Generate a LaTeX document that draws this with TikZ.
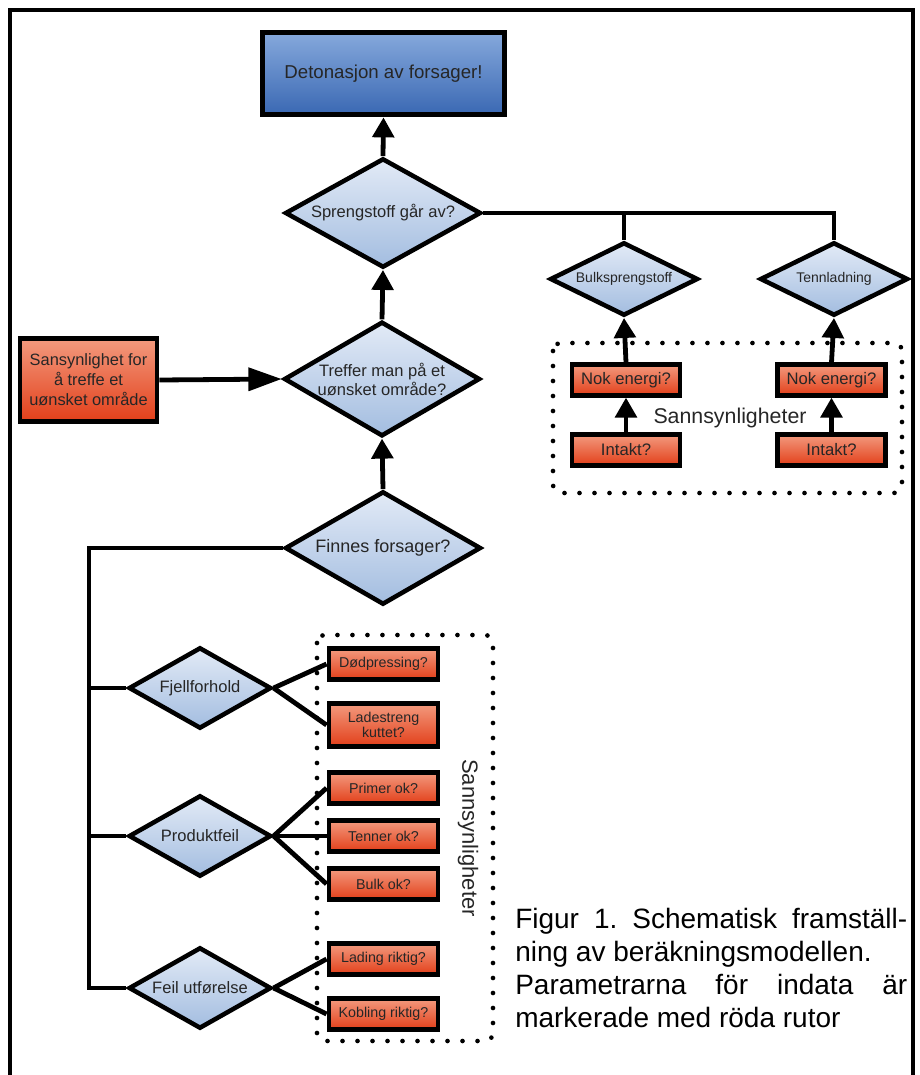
\documentclass[tikz,border=0pt]{standalone}
\usepackage{fontspec}
\setmainfont{Liberation Sans}
\usetikzlibrary{arrows.meta,shapes.geometric}
\frenchspacing
\definecolor{bluetop}{HTML}{86A9DC}
\definecolor{bluebot}{HTML}{3A68B3}
\definecolor{diatop}{HTML}{E2EAF6}
\definecolor{diabot}{HTML}{A3BDE0}
\definecolor{redtop}{HTML}{F39A7E}
\definecolor{redbot}{HTML}{E23F1A}
\definecolor{txt}{HTML}{262626}
\tikzset{
  dia/.style={diamond, draw=black, line width=3.4pt, inner sep=0pt, top color=diatop, bottom color=diabot},
  dtext/.style={text=txt, align=center, inner sep=0pt},
  redbox/.style={rectangle, draw=black, line width=3.4pt, top color=redtop, bottom color=redbot, text=txt, align=center, inner sep=1pt},
  conn/.style={line width=3.6pt},
  arr/.style={line width=3.6pt, -{Triangle[length=15pt,width=16pt]}},
  bigarr/.style={line width=3.6pt, -{Triangle[length=25pt,width=17pt]}},
  dotbox/.style={line width=3.5pt, dash pattern=on 0pt off 11.25pt, line cap=round, rounded corners=6pt},
  captext/.style={anchor=base west, inner sep=0pt, font=\fontsize{21pt}{25pt}\selectfont},
  fdia/.style={font=\fontsize{12.4pt}{14.25pt}\selectfont},
  fsmall/.style={font=\fontsize{10.7pt}{11.25pt}\selectfont},
}
\begin{document}
\begin{tikzpicture}[x=0.75pt,y=-0.75pt]
\useasboundingbox (0,0) rectangle (920,1075);
% frame
\draw[line width=2.3pt] (10,1076) -- (10,10) -- (913,10) -- (913,1076);
% dotted groups
\draw[dotbox] (553,343) rectangle (902,493);
\draw[dotbox] (317,635) rectangle (493,1041);
\node[text=txt, font=\fontsize{16pt}{18pt}\selectfont] (s1) at (730,418) {Sannsynligheter};
\node[text=txt, font=\fontsize{16.5pt}{18pt}\selectfont, rotate=-90] (s2) at (468,838) {Sannsynligheter};

% main column
\node[rectangle, draw=black, line width=3.8pt, top color=bluetop, bottom color=bluebot,
      minimum width=182pt, minimum height=62pt, text=txt, font=\fontsize{14pt}{16pt}\selectfont]
      (deton) at (383.5,73.5) {Detonasjon av forsager!};
\node[dia, minimum width=147pt, minimum height=82pt,
      label={[dtext,fdia]center:Sprengstoff går av?}] (spreng) at (383,213) {};
\node[dia, minimum width=147pt, minimum height=86pt,
      label={[dtext,fdia]center:Treffer man på et\\uønsket område?}] (treffer) at (382,379) {};
\node[dia, minimum width=147pt, minimum height=85pt,
      label={[dtext,font=\fontsize{13.5pt}{15pt}\selectfont]center:Finnes forsager?}] (finnes) at (383,548) {};
\node[redbox, minimum width=103pt, minimum height=62pt, font=\fontsize{12.3pt}{15pt}\selectfont]
      (sans) at (88.5,380) {Sansynlighet for\\å treffe et\\uønsket område};

% right branch
\node[dia, minimum width=111pt, minimum height=55pt,
      label={[dtext,font=\fontsize{10.5pt}{12pt}\selectfont]center:Bulksprengstoff}] (bulk) at (624,279) {};
\node[dia, minimum width=111pt, minimum height=55pt,
      label={[dtext,font=\fontsize{10.5pt}{12pt}\selectfont]center:Tennladning}] (tenn) at (834,279) {};
\node[redbox, minimum width=81pt, minimum height=23pt, font=\fontsize{12.5pt}{14pt}\selectfont] (nok1) at (626,380) {Nok energi?};
\node[redbox, minimum width=81pt, minimum height=23pt, font=\fontsize{12.5pt}{14pt}\selectfont] (nok2) at (831.5,380) {Nok energi?};
\node[redbox, minimum width=81pt, minimum height=23pt, font=\fontsize{12.5pt}{14pt}\selectfont] (int1) at (626,450) {Intakt?};
\node[redbox, minimum width=81pt, minimum height=23pt, font=\fontsize{12.5pt}{14pt}\selectfont] (int2) at (831.5,450) {Intakt?};

% lower branch
\node[dia, minimum width=107pt, minimum height=61pt,
      label={[dtext,fdia]center:Fjellforhold}] (fjell) at (200,688) {};
\node[dia, minimum width=107pt, minimum height=61pt,
      label={[dtext,fdia]center:Produktfeil}] (prod) at (200,836) {};
\node[dia, minimum width=107pt, minimum height=61pt,
      label={[dtext,fdia]center:Feil utførelse}] (feil) at (200,988) {};

\node[redbox, fsmall, minimum width=82pt, minimum height=23pt] (dod) at (383.5,664) {Dødpressing?};
\node[redbox, fsmall, minimum width=82pt, minimum height=32pt] (lade) at (383.5,725) {Ladestreng\\kuttet?};
\node[redbox, fsmall, minimum width=82pt, minimum height=23pt] (primer) at (383.5,788) {Primer ok?};
\node[redbox, fsmall, minimum width=82pt, minimum height=23pt] (tenner) at (383.5,836) {Tenner ok?};
\node[redbox, fsmall, minimum width=82pt, minimum height=23pt] (bulkok) at (383.5,884) {Bulk ok?};
\node[redbox, fsmall, minimum width=82pt, minimum height=23pt] (lading) at (383.5,959) {Lading riktig?};
\node[redbox, fsmall, minimum width=82pt, minimum height=23pt] (kobling) at (383.5,1014) {Kobling riktig?};

% connectors main
\draw[arr] (spreng.north) -- (deton.south);
\draw[arr] (treffer.north) -- (spreng.south);
\draw[arr] (finnes.north) -- (treffer.south);
\draw[bigarr] (sans.east) -- (treffer.west);

% right branch connectors
\draw[conn] (spreng.east) -| (tenn.north);
\draw[conn] (bulk.north) -- (bulk.north |- spreng.east);
\draw[arr] (nok1.north) -- (bulk.south);
\draw[arr] (nok2.north) -- (tenn.south);
\draw[arr] (int1.north) -- (nok1.south);
\draw[arr] (int2.north) -- (nok2.south);

% trunk
\coordinate (trtop) at (89,548);
\coordinate (trbot) at (89,988);
\draw[conn, line join=miter] (finnes.west) -- (trtop) -- (trbot) -- (feil.west);
\draw[conn] (trtop |- fjell.west) -- (fjell.west);
\draw[conn] (trtop |- prod.west) -- (prod.west);

% fan-out
\draw[conn] (fjell.east) -- (dod.west);
\draw[conn] (fjell.east) -- (lade.west);
\draw[conn] (prod.east) -- (primer.west);
\draw[conn] (prod.east) -- (tenner.west);
\draw[conn] (prod.east) -- (bulkok.west);
\draw[conn] (feil.east) -- (lading.west);
\draw[conn] (feil.east) -- (kobling.west);

% caption
\node[captext] (c1) at (515,928) {\makebox[294pt][s]{Figur 1. Schematisk framställ-}};
\node[captext] (c2) at (515,961) {ning av beräkningsmodellen.};
\node[captext] (c3) at (515,994) {\makebox[294pt][s]{Parametrarna för indata är}};
\node[captext] (c4) at (515,1027) {markerade med röda rutor};
\end{tikzpicture}
\end{document}
